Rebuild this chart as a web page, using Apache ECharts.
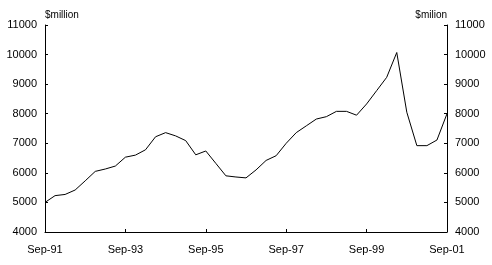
<!DOCTYPE html>
<html>
<head>
<meta charset="utf-8">
<script src="https://cdn.jsdelivr.net/npm/echarts@6/dist/echarts.min.js"></script>
<style>html,body{margin:0;padding:0;background:#fff;}#c{width:492px;height:265px;}</style>
</head>
<body>
<div id="c"></div>
<script>
const categories = [
  "Sep-91","Dec-91","Mar-92","Jun-92","Sep-92","Dec-92","Mar-93","Jun-93",
  "Sep-93","Dec-93","Mar-94","Jun-94","Sep-94","Dec-94","Mar-95","Jun-95",
  "Sep-95","Dec-95","Mar-96","Jun-96","Sep-96","Dec-96","Mar-97","Jun-97",
  "Sep-97","Dec-97","Mar-98","Jun-98","Sep-98","Dec-98","Mar-99","Jun-99",
  "Sep-99","Dec-99","Mar-00","Jun-00","Sep-00","Dec-00","Mar-01","Jun-01",
  "Sep-01"
];
const values = [
  5000, 5230, 5270, 5420, 5730, 6050, 6130, 6230,
  6530, 6600, 6780, 7220, 7360, 7250, 7090, 6610,
  6740, 6320, 5900, 5860, 5830, 6100, 6420, 6580,
  7000, 7360, 7590, 7820, 7900, 8080, 8080, 7950,
  8330, 8780, 9230, 10070, 8050, 6920, 6920, 7110,
  8000
];
const yTicks = { min: 4000, max: 11000, interval: 1000 };
const leftUnit = "$million";
const rightUnit = "$milion";

const font = "Arial, 'Liberation Sans', sans-serif";
const chart = echarts.init(document.getElementById('c'));
const yBase = (pos, name, align) => ({
  type: 'value', position: pos, min: yTicks.min, max: yTicks.max, interval: yTicks.interval,
  name: name, nameLocation: 'end', nameGap: 5,
  nameTextStyle: { color: '#000', fontSize: 10, fontFamily: font, align: align, padding: 0 },
  axisLine: { show: true, onZero: false, lineStyle: { color: '#000', width: 1 } },
  axisTick: { show: true, inside: true, length: 3, lineStyle: { color: '#000' } },
  axisLabel: { color: '#000', fontSize: 11, fontFamily: font, margin: 8, formatter: v => String(v) },
  splitLine: { show: false }
});
chart.setOption({
  animation: false,
  grid: { left: 45, right: 45, top: 25, bottom: 33, containLabel: false },
  xAxis: {
    type: 'category', data: categories, boundaryGap: false,
    axisLine: { lineStyle: { color: '#000', width: 1 } },
    axisTick: { inside: true, length: 3, interval: 7, lineStyle: { color: '#000' } },
    axisLabel: { interval: 7, color: '#000', fontSize: 11, fontFamily: font, margin: 12, showMaxLabel: true },
    splitLine: { show: false }
  },
  yAxis: [yBase('left', leftUnit, 'left'), yBase('right', rightUnit, 'right')],
  series: [{
    type: 'line', data: values, showSymbol: false, symbol: 'none',
    lineStyle: { color: '#000', width: 1 }
  }]
});
</script>
</body>
</html>
